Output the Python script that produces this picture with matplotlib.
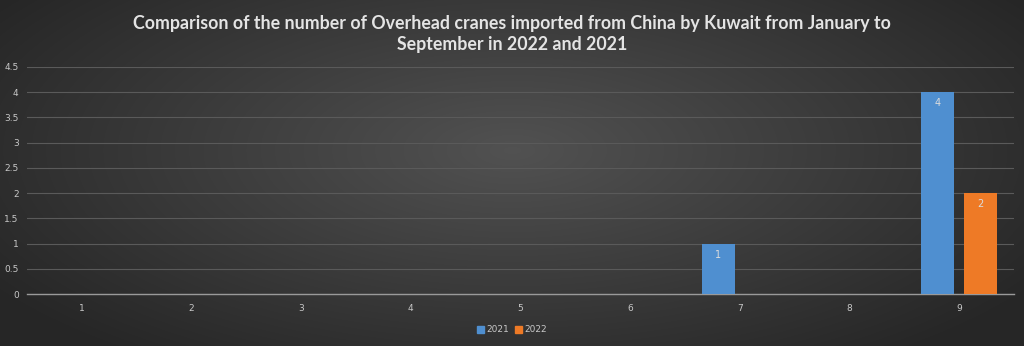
import numpy as np
import matplotlib
matplotlib.use("Agg")
import matplotlib.pyplot as plt
from matplotlib.patches import Patch

months = ["1", "2", "3", "4", "5", "6", "7", "8", "9"]
imports_2021 = [0, 0, 0, 0, 0, 0, 1, 0, 4]
imports_2022 = [0, 0, 0, 0, 0, 0, 0, 0, 2]
series_names = ["2021", "2022"]
title = ("Comparison of the number of Overhead cranes imported from China by Kuwait from January to\n"
         "September in 2022 and 2021")

blue = "#4f8fd0"
orange = "#ee7a26"
text_col = "#c8c8c8"

fig = plt.figure(figsize=(10.24, 3.46), dpi=100)

# radial-gradient backdrop
bg = fig.add_axes([0, 0, 1, 1], zorder=-10)
yy, xx = np.mgrid[0:346, 0:1024]
r = np.sqrt(((xx - 512) / 620.0) ** 2 + ((yy - 150) / 260.0) ** 2)
r = np.clip(r, 0, 1)
shade = 0.32 - 0.17 * r
bg.imshow(np.dstack([shade, shade, shade]), aspect="auto", extent=[0, 1, 0, 1])
bg.set_axis_off()

ax = fig.add_axes([27 / 1024, 1 - 294 / 346, (1014 - 27) / 1024, (294 - 67) / 346])
ax.patch.set_alpha(0)

x = np.arange(len(months))
w = 0.30
off = 0.195
b1 = ax.bar(x - off, imports_2021, width=w, color=blue, zorder=3)
b2 = ax.bar(x + off, imports_2022, width=w, color=orange, zorder=3)

for bars, vals in ((b1, imports_2021), (b2, imports_2022)):
    for rect, v in zip(bars, vals):
        if v > 0:
            ax.text(rect.get_x() + rect.get_width() / 2, v - 0.12, f"{v:g}",
                    ha="center", va="top", color="#dcdcdc", fontsize=7, zorder=4)

ax.set_xlim(-0.5, len(months) - 0.5)
ax.set_ylim(0, 4.5)
ax.set_yticks(np.arange(0, 4.51, 0.5))
ax.set_yticklabels([f"{t:g}" for t in np.arange(0, 4.51, 0.5)])
ax.set_xticks(x)
ax.set_xticklabels(months)
ax.tick_params(axis="both", length=0, colors=text_col, labelsize=6.5)
ax.tick_params(axis="y", pad=6)
ax.tick_params(axis="x", pad=7)
ax.grid(axis="y", color="#5a5a5a", linewidth=0.8, zorder=0)
for s in ("top", "right", "left"):
    ax.spines[s].set_visible(False)
ax.spines["bottom"].set_color("#9a9a9a")
ax.spines["bottom"].set_linewidth(1.0)

fig.text(0.5, 0.958, title, ha="center", va="top", color="#e4e4e4",
         fontsize=12.8, fontweight="bold", family="Lato", linespacing=1.35)

handles = [Patch(color=blue, label=series_names[0]), Patch(color=orange, label=series_names[1])]
fig.legend(handles=handles, loc="center", bbox_to_anchor=(0.5, 1 - 330 / 346), ncol=2,
           frameon=False, fontsize=6.5, labelcolor=text_col, handlelength=0.8,
           handleheight=0.8, handletextpad=0.3, columnspacing=0.6)

fig.savefig("out.png", dpi=100)
